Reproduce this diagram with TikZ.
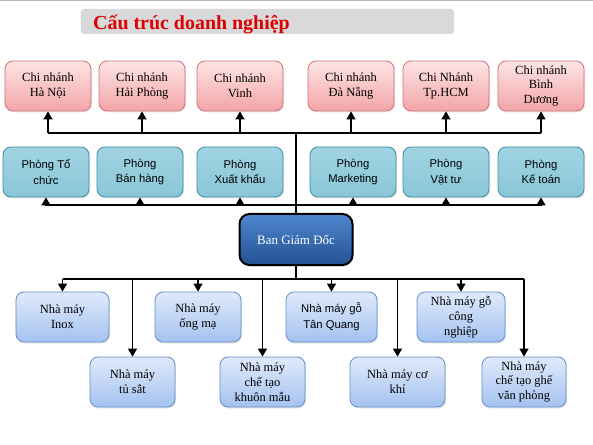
\documentclass[tikz,border=0pt]{standalone}
\usepackage{fontspec}
\setmainfont{Liberation Serif}
\newfontfamily\serifnt{Liberation Serif}
\newfontfamily\sansfnt{Liberation Sans}
\usetikzlibrary{arrows.meta,shadows}
\definecolor{redT}{RGB}{253,228,228}
\definecolor{redB}{RGB}{243,165,168}
\definecolor{redL}{RGB}{214,112,120}
\definecolor{cyanT}{RGB}{160,212,226}
\definecolor{cyanB}{RGB}{138,198,215}
\definecolor{cyanL}{RGB}{62,140,165}
\definecolor{bgdT}{RGB}{78,134,205}
\definecolor{bgdB}{RGB}{36,82,148}
\definecolor{lbT}{RGB}{224,234,251}
\definecolor{lbB}{RGB}{164,194,240}
\definecolor{lbL}{RGB}{100,140,200}
\definecolor{titleRed}{RGB}{222,0,0}
\definecolor{titleGray}{RGB}{217,217,217}
\begin{document}
\begin{tikzpicture}[x=1bp,y=-1bp,
  shad/.style={drop shadow={shadow xshift=1.2bp,shadow yshift=-1.5bp,fill=black!18}},
  boxbase/.style={rounded corners=8bp,minimum height=50bp,align=center,inner sep=1bp,line width=0.8bp,shad},
  redbox/.style={boxbase,draw=redL,top color=redT,bottom color=redB,minimum width=86bp,
     font=\serifnt\fontsize{12.5}{15}\selectfont},
  cyanbox/.style={boxbase,draw=cyanL,top color=cyanT,bottom color=cyanB,minimum width=86bp,
     font=\sansfnt\fontsize{11.3}{15.5}\selectfont},
  lbbox/.style={boxbase,draw=lbL,top color=lbT,bottom color=lbB,
     font=\serifnt\fontsize{12.5}{15}\selectfont},
  lbsans/.style={lbbox,font=\sansfnt\fontsize{11.3}{15.5}\selectfont},
  bgdbox/.style={rounded corners=10bp,draw=black,line width=2bp,top color=bgdT,bottom color=bgdB,
     minimum width=113bp,minimum height=51bp,text=white,font=\serifnt\fontsize{13}{15}\selectfont,shad},
  bus/.style={line width=1.3bp,draw=black},
  arr/.style={line width=1.3bp,-{Triangle[length=8bp,width=9bp]}},
  titlebox/.style={fill=titleGray,rounded corners=3bp,minimum width=373bp,minimum height=25bp,inner sep=0pt},
  titletext/.style={text=titleRed,font=\serifnt\bfseries\fontsize{20}{22}\selectfont,inner sep=0pt}
]
\useasboundingbox (0,0) rectangle (593,445);
\fill[white] (0,0) rectangle (593,445);
\draw[gray!55,line width=1bp] (0,0.5) -- (593,0.5);

% title
\node[titlebox] (tbox) at (267.5,21.5) {};
\node[titletext,anchor=base west] (title) at (93,30) {Cấu trúc doanh nghiệp};

% row 1
\node[redbox] (hn)   at (48,86)  {Chi nhánh\\Hà Nội};
\node[redbox] (hp)   at (142,86) {Chi nhánh\\Hải Phòng};
\node[redbox] (vinh) at (240,86) {Chi nhánh\\Vinh};
\node[redbox] (dn)   at (351,86) {Chi nhánh\\Đà Nẵng};
\node[redbox] (hcm)  at (446,86) {Chi Nhánh\\Tp.HCM};
\node[redbox] (bd)   at (541,86) {Chi nhánh\\Bình\\Dương};

% row 2
\node[cyanbox] (tc) at (46,172)  {Phòng Tổ\\chức};
\node[cyanbox] (bh) at (140,172) {Phòng\\Bán hàng};
\node[cyanbox] (xk) at (240,172) {Phòng\\Xuất khẩu};
\node[cyanbox] (mk) at (353,172) {Phòng\\Marketing};
\node[cyanbox] (vt) at (446,172) {Phòng\\Vật tư};
\node[cyanbox] (kt) at (541,172) {Phòng\\Kế toán};

% director
\node[bgdbox] (bgd) at (296,239.5) {Ban Giám Đốc};

% row 3
\node[lbbox,minimum width=93bp] (inox)  at (62.5,317) {Nhà máy\\Inox};
\node[lbbox,minimum width=86bp] (ongma) at (198,317)  {Nhà máy\\ống mạ};
\node[lbsans,minimum width=91bp] (tanq) at (331.5,317) {Nhà máy gỗ\\Tân Quang};
\node[lbbox,minimum width=88bp] (gocn)  at (461,317)  {Nhà máy gỗ\\công\\nghiệp};

% row 4
\node[lbbox,minimum width=85bp] (tusat) at (132.5,382) {Nhà máy\\tủ sắt};
\node[lbbox,minimum width=85bp] (khuon) at (262.5,382) {Nhà máy\\chế tạo\\khuôn mẫu};
\node[lbbox,minimum width=95bp] (cokhi) at (397.5,382) {Nhà máy cơ\\khí};
\node[lbbox,minimum width=84bp] (ghe)   at (524,382)   {Nhà máy\\chế tạo ghế\\văn phòng};

% buses
\coordinate (busA) at (296,133);
\coordinate (busB) at (296,205);
\coordinate (busC) at (296,279);

\draw[bus] (bgd.north) -- (bgd.north |- busA);
\draw[bus] (hn.south |- busA) -- (bd.south |- busA);
\foreach \n in {hn,hp,vinh,dn,hcm,bd} \draw[arr] (\n.south |- busA) -- (\n.south);

\draw[bus] (tc.south |- busB) -- (kt.south |- busB);
\foreach \n in {tc,bh,xk,mk,vt,kt} \draw[arr] (\n.south |- busB) -- (\n.south);

\draw[bus] (bgd.south) -- (bgd.south |- busC);
\draw[bus] (inox.north |- busC) -- (ghe.north |- busC);
\foreach \n in {inox,ongma,tanq,gocn,tusat,khuon,cokhi,ghe} \draw[arr] (\n.north |- busC) -- (\n.north);
\end{tikzpicture}
\end{document}
